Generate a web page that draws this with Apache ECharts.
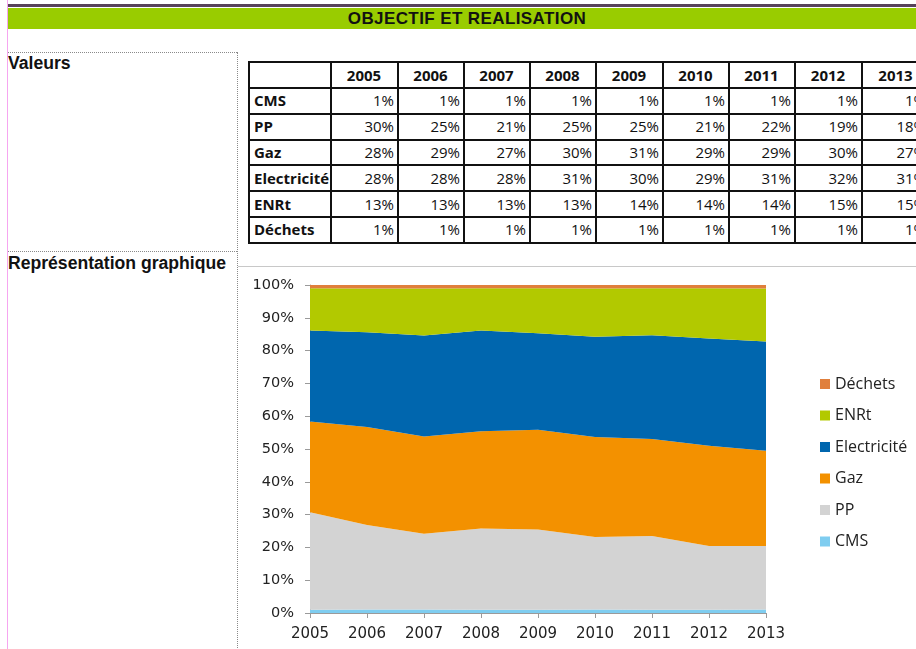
<!DOCTYPE html>
<html lang="fr">
<head>
<meta charset="utf-8">
<title>Objectif et réalisation</title>
<script src="https://cdn.jsdelivr.net/npm/echarts@6/dist/echarts.min.js"></script>
<style>
    html, body { margin: 0; padding: 0; width: 916px; height: 649px; overflow: hidden; background: #fff; }
    body { position: relative; font-family: "Liberation Sans", Arial, sans-serif; }
    .pink { position: absolute; left: 7px; top: 0; width: 1px; height: 649px; background: #f6a6f0; }
    .topline { position: absolute; left: 8px; top: 4px; width: 908px; height: 3px; background: #57425a; }
    .bar { position: absolute; left: 8px; top: 8px; width: 908px; height: 21px; background: #99cc00;
           text-align: center; font-weight: bold; font-size: 17px; line-height: 21px; color: #111;
           letter-spacing: 0.4px; }
    .bar span { position: relative; left: 5px; }
    .lbl { position: absolute; left: 8px; font-weight: bold; font-size: 17.6px; color: #111; }
    .dash { position: absolute; border-color: #8a8a8a; border-style: dotted; border-width: 0; }
    #tbl { position: absolute; left: 248px; top: 61px; width: 681px; border-collapse: collapse; table-layout: fixed;
           font-family: "Open Sans", "Noto Sans", sans-serif; font-size: 15px; color: #111; }
    #tbl td { border: 2px solid #111; padding: 0 3px 0 2px; height: 23.8px; white-space: nowrap; overflow: hidden;
              text-align: right; line-height: 23px; }
    #tbl td.name { text-align: left; font-weight: bold; text-overflow: clip; padding-left: 4px; }
    #tbl tr.head td { text-align: center; font-weight: bold; height: 24px; }
    .frame { position: absolute; left: 238px; top: 266px; width: 680px; height: 390px; border-top: 1px solid #c8c8c8; }
    #main { position: absolute; left: 240px; top: 267px; width: 676px; height: 382px; }
</style>
</head>
<body>
<div class="pink"></div>
<div class="topline"></div>
<div class="bar"><span>OBJECTIF ET REALISATION</span></div>
<div class="dash" style="left:8px;top:52px;width:229px;border-top-width:1px;"></div>
<div class="dash" style="left:237px;top:52px;height:600px;border-left-width:1px;"></div>
<div class="dash" style="left:8px;top:251px;width:229px;border-top-width:1px;"></div>
<div class="lbl" style="top:53px;">Valeurs</div>
<div class="lbl" style="top:253px;">Représentation graphique</div>
<table id="tbl"></table>
<div class="frame"></div>
<div id="main"></div>
<script>
    // données du tableau (en %)
    var years = ['2005', '2006', '2007', '2008', '2009', '2010', '2011', '2012', '2013'];
    var cms = [1, 1, 1, 1, 1, 1, 1, 1, 1];
    var pp = [30, 25, 21, 25, 25, 21, 22, 19, 18];
    var gaz = [28, 29, 27, 30, 31, 29, 29, 30, 27];
    var elec = [28, 28, 28, 31, 30, 29, 31, 32, 31];
    var enrt = [13, 13, 13, 13, 14, 14, 14, 15, 15];
    var dechets = [1, 1, 1, 1, 1, 1, 1, 1, 1];

    var rows = [
        { name: 'CMS', data: cms, color: '#7fcdf0' },
        { name: 'PP', data: pp, color: '#d3d3d3' },
        { name: 'Gaz', data: gaz, color: '#f39100' },
        { name: 'Electricité', data: elec, color: '#0066ae' },
        { name: 'ENRt', data: enrt, color: '#b2c900' },
        { name: 'Déchets', data: dechets, color: '#e07f3c' }
    ];

    // tableau
    var colW = [82, 67, 66, 66, 66, 67, 66, 66, 67, 68];
    var html = '<colgroup>';
    colW.forEach(function (w) { html += '<col style="width:' + w + 'px">'; });
    html += '</colgroup><tr class="head"><td></td>';
    years.forEach(function (y) { html += '<td>' + y + '</td>'; });
    html += '</tr>';
    rows.forEach(function (r) {
        html += '<tr><td class="name">' + r.name + '</td>';
        r.data.forEach(function (v) { html += '<td>' + v + '%</td>'; });
        html += '</tr>';
    });
    document.getElementById('tbl').innerHTML = html;

    // graphique en aires empilées 100 %
    var totals = years.map(function (y, i) {
        return rows.reduce(function (s, r) { return s + r.data[i]; }, 0);
    });

    var myChart = echarts.init(document.getElementById('main'));
    myChart.setOption({
        animation: false,
        grid: { left: 70, right: 150, top: 18, bottom: 36 },
        legend: {
            orient: 'vertical',
            left: 575,
            top: 104,
            itemWidth: 10,
            itemHeight: 10,
            itemGap: 15.5,
            icon: 'rect',
            data: ['Déchets', 'ENRt', 'Electricité', 'Gaz', 'PP', 'CMS'],
            textStyle: { fontFamily: 'Open Sans', fontSize: 16, color: '#222' }
        },
        xAxis: {
            type: 'category',
            data: years,
            boundaryGap: false,
            axisLine: { lineStyle: { color: '#9a9a9a' } },
            axisTick: { alignWithLabel: true, length: 5, lineStyle: { color: '#9a9a9a' } },
            axisLabel: { margin: 14, fontFamily: 'DejaVu Sans', fontSize: 15, color: '#222' }
        },
        yAxis: {
            type: 'value',
            min: 0,
            max: 100,
            interval: 10,
            splitLine: { show: false },
            axisLine: { show: true, lineStyle: { color: '#9a9a9a' } },
            axisTick: { show: true, length: 5, lineStyle: { color: '#9a9a9a' } },
            axisLabel: { formatter: '{value}%', margin: 16, fontFamily: 'DejaVu Sans', fontSize: 14.5, color: '#222' }
        },
        series: rows.map(function (r) {
            return {
                name: r.name,
                type: 'line',
                stack: 'total',
                symbol: 'none',
                color: r.color,
                lineStyle: { width: 0 },
                areaStyle: { color: r.color, opacity: 1 },
                data: r.data.map(function (v, i) { return v / totals[i] * 100; })
            };
        })
    });
</script>
</body>
</html>
